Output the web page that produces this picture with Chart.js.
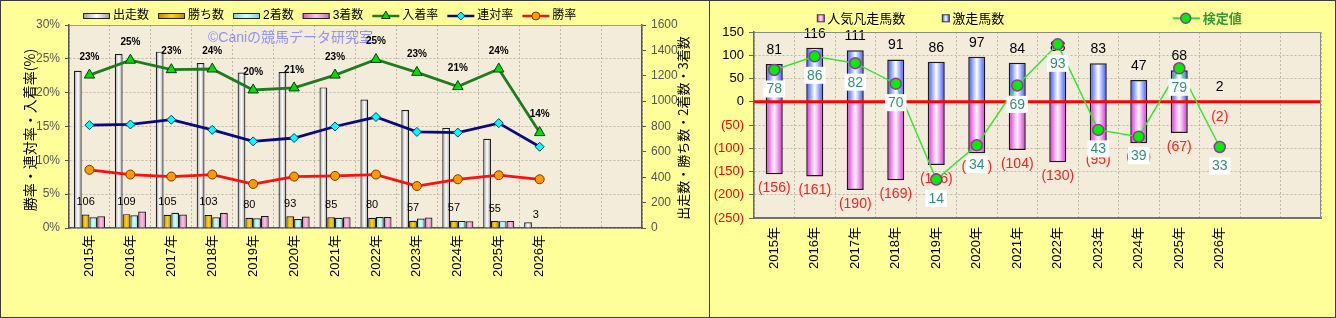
<!DOCTYPE html>
<html><head><meta charset="utf-8">
<script src="https://cdn.jsdelivr.net/npm/chart.js@4.4.1/dist/chart.umd.min.js"></script>
<style>
html,body{margin:0;padding:0;background:#FFFF99;}
#wrap{position:relative;width:1336px;height:318px;overflow:hidden;}
.panel{position:absolute;top:0;height:318px;box-sizing:border-box;border:1px solid #3a3a3a;background:#FFFF99;}
#p1{left:0;width:710px;}
#p2{left:709px;width:627px;}
canvas{display:block;}
</style></head>
<body><div id="wrap">
<div class="panel" id="p1"><canvas id="c1" width="708" height="316"></canvas></div>
<div class="panel" id="p2"><canvas id="c2" width="625" height="316"></canvas></div>
</div>
<script>
// ---------- data ----------
const categories = ['2015年','2016年','2017年','2018年','2019年','2020年','2021年','2022年','2023年','2024年','2025年','2026年'];
const spareSlots = ['', ''];

// left chart
const runs      = [1240,1372,1390,1300,1225,1230,1108,1012,930,789,703,45];
const wins      = [106,109,105,103,80,93,85,80,57,57,55,3];
const seconds   = [85,100,120,85,76,71,81,86,75,56,54,2];
const thirds    = [92,130,106,118,94,91,84,86,82,53,56,1];
const placeRate = [22.6,24.8,23.4,23.5,20.4,20.7,22.6,24.9,23.0,20.9,23.5,14.1];
const rentaiRate= [15.2,15.3,16.0,14.5,12.8,13.3,15.0,16.4,14.2,14.1,15.5,12.0];
const winRate   = [8.6,7.9,7.6,7.9,6.5,7.6,7.7,7.9,6.2,7.2,7.8,7.2];
const placeLabels = ['23%','25%','23%','24%','20%','21%','23%','25%','23%','21%','24%','14%'];

// right chart
const gekisou = [81,116,111,91,86,97,84,88,83,47,68,2];
const bonsou  = [156,161,190,169,136,111,104,130,95,89,67,2];
const kentei  = [78,86,82,70,14,34,69,93,43,39,79,33];

// ---------- helpers ----------
const F = '"Liberation Sans", "Noto Sans CJK JP", sans-serif';
const FJ = '"Noto Sans CJK JP", "Liberation Sans", sans-serif';
Chart.defaults.font.family = F;
Chart.defaults.animation = false;

function hBarGradient(edge, mid, slot, nSlots, catPct) {
  return (c) => {
    const chart = c.chart;
    const xs = chart.scales && chart.scales.x;
    if (c.type !== 'data' || !xs || !chart.chartArea) return mid;
    const cx = xs.getPixelForValue(c.dataIndex);
    const step = xs.getPixelForValue(1) - xs.getPixelForValue(0);
    const gw = step * catPct, bw = gw / nSlots;
    const left = cx - gw / 2 + slot * bw;
    const g = chart.ctx.createLinearGradient(left, 0, left + bw, 0);
    g.addColorStop(0, edge); g.addColorStop(0.5, mid); g.addColorStop(1, edge);
    return g;
  };
}
function swatchGrad(ctx, x, w, edge, mid) {
  const g = ctx.createLinearGradient(x, 0, x + w, 0);
  g.addColorStop(0, edge); g.addColorStop(0.5, mid); g.addColorStop(1, edge);
  return g;
}

const labelsAll = categories.concat(spareSlots);
const GRID = '#BFB7A6';
const PLOT_BG = '#F4ECDA';
const LCAT = 0.76;

// ---------- left chart ----------
const leftColors = [
  ['#9A9A9A', '#FFFFFF'],
  ['#B88A00', '#FFD21A'],
  ['#7CD4D4', '#D4FFFF'],
  ['#CC6AAE', '#FFC4EA']
];
const leftLegendItems = [
  {text:'出走数', bar:0}, {text:'勝ち数', bar:1}, {text:'2着数', bar:2}, {text:'3着数', bar:3},
  {text:'入着率', line:'#1E7B1E', ps:'triangle', r:5, fill:'#00DD00', stroke:'#0B3B0B'},
  {text:'連対率', line:'#0A0A80', ps:'rectRot', r:4, fill:'#00FFFF', stroke:'#0A3A6A'},
  {text:'勝率', line:'#FF1010', ps:'circle', r:4, fill:'#FF9900', stroke:'#7A3A00'}
];

const leftDecor = {
  id: 'leftDecor',
  beforeDraw(chart) {
    const {ctx, chartArea: a} = chart;
    ctx.save(); ctx.fillStyle = PLOT_BG; ctx.fillRect(a.left, a.top, a.width, a.height); ctx.restore();
  },
  beforeDatasetsDraw(chart) {
    const {ctx} = chart;
    ctx.save();
    ctx.font = '14px ' + F; ctx.fillStyle = 'rgba(128,128,250,0.85)';
    ctx.textAlign = 'left'; ctx.textBaseline = 'middle';
    ctx.fillText('©Caniの競馬データ研究室', 207, 37);
    ctx.restore();
  },
  afterDatasetsDraw(chart) {
    const {ctx} = chart;
    ctx.save();
    ctx.fillStyle = '#000'; ctx.textAlign = 'center'; ctx.textBaseline = 'middle';
    ctx.font = '11px ' + F;
    chart.getDatasetMeta(1).data.forEach((el, i) => ctx.fillText(String(wins[i]), el.x, el.y - 12.5));
    ctx.font = 'bold 10px ' + F;
    chart.getDatasetMeta(4).data.forEach((el, i) => ctx.fillText(placeLabels[i], el.x, el.y - 18));
    ctx.restore();
  },
  afterDraw(chart) {
    const {ctx, chartArea: a} = chart;
    ctx.save();
    ctx.strokeStyle = '#9A9A9A'; ctx.lineWidth = 1;
    ctx.beginPath(); ctx.moveTo(a.left, a.top + 0.5); ctx.lineTo(a.right, a.top + 0.5); ctx.stroke();
    // legend
    ctx.font = '12px ' + F; ctx.textBaseline = 'middle'; ctx.textAlign = 'left';
    let x = 82; const y = 15;
    leftLegendItems.forEach(it => {
      if (it.bar !== undefined) {
        const c = leftColors[it.bar];
        ctx.fillStyle = swatchGrad(ctx, x, 27, c[0], c[1]);
        ctx.fillRect(x, y - 3, 27, 6);
        ctx.strokeStyle = '#222'; ctx.lineWidth = 1; ctx.strokeRect(x + 0.5, y - 2.5, 26, 5);
      } else {
        ctx.strokeStyle = it.line; ctx.lineWidth = 2.5;
        ctx.beginPath(); ctx.moveTo(x, y); ctx.lineTo(x + 27, y); ctx.stroke();
        ctx.fillStyle = it.fill; ctx.strokeStyle = it.stroke; ctx.lineWidth = 1;
        Chart.helpers.drawPoint(ctx, {pointStyle: it.ps, radius: it.r, rotation: 0, borderWidth: 1}, x + 13.5, y);
      }
      ctx.fillStyle = '#000';
      ctx.fillText(it.text, x + 30, y);
      x += 27 + 3 + ctx.measureText(it.text).width + 9;
    });
    // axis titles
    ctx.fillStyle = '#000'; ctx.textAlign = 'center';
    ctx.font = '14px ' + FJ;
    ctx.save(); ctx.translate(29, 129); ctx.rotate(-Math.PI / 2); ctx.fillText('勝率・連対率・入着率(%)', 0, 0); ctx.restore();
    ctx.font = '13px ' + FJ;
    ctx.save(); ctx.translate(682, 127); ctx.rotate(-Math.PI / 2); ctx.fillText('出走数・勝ち数・2着数・3着数', 0, 0); ctx.restore();
    ctx.restore();
  }
};

function barDS(label, data, idx) {
  return {label, data, yAxisID: 'y2', order: 1,
    backgroundColor: hBarGradient(leftColors[idx][0], leftColors[idx][1], idx, 4, LCAT),
    borderColor: '#1A1A1A', borderWidth: 1.2, categoryPercentage: LCAT, barPercentage: 1};
}

new Chart(document.getElementById('c1'), {
  type: 'bar',
  data: {
    labels: labelsAll,
    datasets: [
      barDS('出走数', runs, 0),
      barDS('勝ち数', wins, 1),
      barDS('2着数', seconds, 2),
      barDS('3着数', thirds, 3),
      {type:'line', label:'入着率', data: placeRate, yAxisID:'y', order:0, borderColor:'#1E7B1E', borderWidth:2.8,
       pointStyle:'triangle', pointRadius:6, pointBackgroundColor:'#00DD00', pointBorderColor:'#0B3B0B', pointBorderWidth:1},
      {type:'line', label:'連対率', data: rentaiRate, yAxisID:'y', order:0, borderColor:'#0A0A80', borderWidth:2.8,
       pointStyle:'rectRot', pointRadius:4.5, pointBackgroundColor:'#00FFFF', pointBorderColor:'#0A3A6A', pointBorderWidth:1},
      {type:'line', label:'勝率', data: winRate, yAxisID:'y', order:0, borderColor:'#FF1010', borderWidth:2.8,
       pointStyle:'circle', pointRadius:4.5, pointBackgroundColor:'#FF9900', pointBorderColor:'#7A3A00', pointBorderWidth:1}
    ]
  },
  options: {
    responsive: false, animation: false, events: [],
    layout: {padding: {top: 24, left: 0, right: 0, bottom: 0}},
    plugins: {legend: {display: false}, tooltip: {enabled: false}},
    scales: {
      x: {
        offset: true,
        grid: {display: true, offset: true, color: GRID, lineWidth: 1, drawTicks: false},
        border: {display: true, color: '#555', width: 1.5, dash: [2, 2]},
        ticks: {minRotation: 90, maxRotation: 90, autoSkip: false, padding: 7, color: '#000', font: {size: 13, family: F}},
        afterFit: s => { s.height = 89; }
      },
      y: {
        position: 'left', min: 0, max: 30,
        ticks: {stepSize: 5, callback: v => v + '%', color: '#555', font: {size: 12, family: F}, padding: 5},
        grid: {color: GRID, lineWidth: 1, tickLength: 4, tickColor: '#555'},
        border: {color: '#555', width: 1.5, dash: [2, 2]},
        afterFit: s => { s.width = 68; }
      },
      y2: {
        position: 'right', min: 0, max: 1600,
        ticks: {stepSize: 200, callback: v => String(v), color: '#555', font: {size: 12, family: F}, padding: 5},
        grid: {drawOnChartArea: false, tickLength: 4, tickColor: '#555'},
        border: {color: '#555', width: 1.5},
        afterFit: s => { s.width = 67; }
      }
    }
  },
  plugins: [leftDecor]
});

// ---------- right chart ----------
const RCAT = 0.42;
const PINK = ['#D82AD8', '#FFF4FF'];
const BLUE = ['#3050FF', '#FFFFFF'];

const rightDecor = {
  id: 'rightDecor',
  beforeDraw(chart) {
    const {ctx, chartArea: a} = chart;
    ctx.save(); ctx.fillStyle = PLOT_BG; ctx.fillRect(a.left, a.top, a.width, a.height); ctx.restore();
  },
  beforeDatasetDraw(chart, args) {
    if (args.index !== 2) return;
    const {ctx, chartArea: a} = chart;
    const ys = chart.scales.y;
    ctx.save();
    const y0 = ys.getPixelForValue(0);
    ctx.strokeStyle = '#FF0000'; ctx.lineWidth = 3;
    ctx.beginPath(); ctx.moveTo(a.left, y0); ctx.lineTo(a.right, y0); ctx.stroke();
    ctx.font = '14px ' + F; ctx.textAlign = 'center'; ctx.textBaseline = 'middle';
    ctx.fillStyle = '#000';
    chart.getDatasetMeta(0).data.forEach((el, i) => ctx.fillText(String(gekisou[i]), el.x, el.y - 14));
    ctx.fillStyle = '#FF2020';
    chart.getDatasetMeta(1).data.forEach((el, i) => ctx.fillText('(' + bonsou[i] + ')', el.x, el.y + 14));
    ctx.restore();
  },
  afterDatasetsDraw(chart) {
    const {ctx} = chart;
    ctx.save();
    ctx.font = '14px ' + F; ctx.textAlign = 'center'; ctx.textBaseline = 'middle';
    chart.getDatasetMeta(2).data.forEach((el, i) => {
      const t = String(kentei[i]);
      const w = ctx.measureText(t).width + 6, h = 17;
      const cy = el.y + 19;
      ctx.fillStyle = '#FFFFFF';
      ctx.fillRect(el.x - w / 2, cy - h / 2, w, h);
      ctx.fillStyle = '#2E9470';
      ctx.fillText(t, el.x, cy + 0.5);
    });
    ctx.restore();
  },
  afterDraw(chart) {
    const {ctx, chartArea: a} = chart;
    ctx.save();
    ctx.strokeStyle = '#8A8A8A'; ctx.lineWidth = 1;
    ctx.beginPath(); ctx.moveTo(a.left, a.top + 0.5); ctx.lineTo(a.right - 0.5, a.top + 0.5); ctx.lineTo(a.right - 0.5, a.bottom); ctx.stroke();
    const y = 17.3;
    ctx.font = '13px ' + FJ; ctx.textBaseline = 'middle'; ctx.textAlign = 'left';
    const sq = (cx, col) => {
      ctx.fillStyle = swatchGrad(ctx, cx - 3.5, 7, col[0], col[1]);
      ctx.fillRect(cx - 3.5, y - 3.5, 7, 7);
      ctx.strokeStyle = '#333'; ctx.lineWidth = 1; ctx.strokeRect(cx - 3.5, y - 3.5, 7, 7);
    };
    sq(110.8, PINK); ctx.fillStyle = '#000'; ctx.fillText('人気凡走馬数', 117.3, y);
    sq(235.8, BLUE); ctx.fillStyle = '#000'; ctx.fillText('激走馬数', 242.3, y);
    ctx.strokeStyle = '#33DD33'; ctx.lineWidth = 2;
    ctx.beginPath(); ctx.moveTo(462.7, y); ctx.lineTo(490, y); ctx.stroke();
    ctx.fillStyle = '#00EE00'; ctx.strokeStyle = '#993399'; ctx.lineWidth = 1.5;
    Chart.helpers.drawPoint(ctx, {pointStyle: 'circle', radius: 5, rotation: 0, borderWidth: 1.5}, 475.7, y);
    ctx.font = 'bold 13px ' + FJ; ctx.fillStyle = '#339933';
    ctx.fillText('検定値', 492.7, y);
    ctx.restore();
  }
};

new Chart(document.getElementById('c2'), {
  type: 'bar',
  data: {
    labels: labelsAll,
    datasets: [
      {label:'激走馬数', data: gekisou, yAxisID:'y', order:1,
       backgroundColor: hBarGradient(BLUE[0], BLUE[1], 0, 1, RCAT),
       borderColor:'#1A1A1A', borderWidth:1.5, categoryPercentage: RCAT, barPercentage: 1},
      {label:'人気凡走馬数', data: bonsou.map(v => -v), yAxisID:'y', order:2,
       backgroundColor: hBarGradient(PINK[0], PINK[1], 0, 1, RCAT),
       borderColor:'#1A1A1A', borderWidth:1.5, categoryPercentage: RCAT, barPercentage: 1},
      {type:'line', label:'検定値', data: kentei, yAxisID:'y2', order:0,
       borderColor:'#33E633', borderWidth:1.5, pointStyle:'circle', pointRadius:5.5,
       pointBackgroundColor:'#00EE00', pointBorderColor:'#993399', pointBorderWidth:1.5}
    ]
  },
  options: {
    responsive: false, animation: false, events: [],
    layout: {padding: {top: 31, left: 0, right: 14, bottom: 0}},
    plugins: {legend: {display: false}, tooltip: {enabled: false}},
    scales: {
      x: {
        stacked: true, offset: true,
        grid: {display: true, offset: true, color: GRID, lineWidth: 1, drawTicks: false},
        border: {display: true, color: '#707070', width: 2, dash: [2, 2]},
        ticks: {minRotation: 90, maxRotation: 90, autoSkip: false, padding: 9, color: '#000', font: {size: 13, family: F}},
        afterFit: s => { s.height = 99; }
      },
      y: {
        stacked: true, position: 'left', min: -250, max: 150,
        ticks: {stepSize: 50, callback: v => v < 0 ? '(' + (-v) + ')' : String(v),
                color: c => (c.tick && c.tick.value < 0) ? '#FF0000' : '#000',
                font: {size: 13, family: F}, padding: 5},
        grid: {color: GRID, lineWidth: 1, tickLength: 5, tickColor: '#666'},
        border: {color: '#666', width: 1.5, dash: [2, 2]},
        afterFit: s => { s.width = 44; }
      },
      y2: {display: false, position: 'right', min: -8.5, max: 100.2}
    }
  },
  plugins: [rightDecor]
});
</script>
</body></html>
